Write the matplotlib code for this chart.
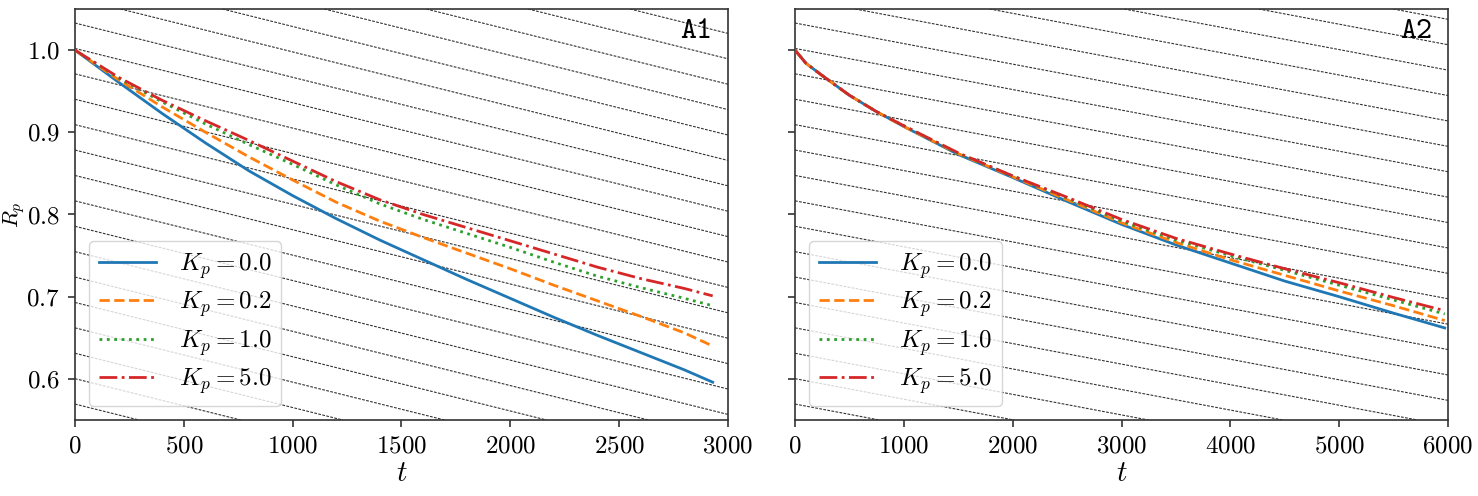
import numpy as np
import matplotlib
matplotlib.use("Agg")
import matplotlib.pyplot as plt

# data
t_a1 = [0, 200, 400, 600, 800, 1000, 1200, 1400, 1600, 1800, 2000, 2200, 2400, 2600, 2800, 2930]
a1_kp00 = [1.0, 0.961, 0.923, 0.887, 0.853, 0.823, 0.795, 0.769, 0.745, 0.721, 0.698, 0.675, 0.653, 0.632, 0.611, 0.596]
a1_kp02 = [1.0, 0.964, 0.931, 0.900, 0.870, 0.842, 0.815, 0.792, 0.772, 0.753, 0.734, 0.714, 0.695, 0.676, 0.656, 0.640]
a1_kp10 = [1.0, 0.966, 0.937, 0.910, 0.885, 0.861, 0.836, 0.813, 0.794, 0.777, 0.760, 0.742, 0.725, 0.711, 0.698, 0.689]
a1_kp50 = [1.0, 0.967, 0.939, 0.914, 0.890, 0.865, 0.840, 0.818, 0.800, 0.784, 0.768, 0.752, 0.736, 0.722, 0.710, 0.701]

t_a2 = [0, 100, 250, 500, 750, 1000, 1500, 2000, 2500, 3000, 3500, 4000, 4500, 5000, 5500, 5970]
a2_kp00 = [1.0, 0.984, 0.969, 0.945, 0.925, 0.907, 0.873, 0.845, 0.816, 0.788, 0.763, 0.741, 0.719, 0.700, 0.680, 0.662]
a2_kp02 = [1.0, 0.984, 0.969, 0.945, 0.925, 0.907, 0.874, 0.846, 0.818, 0.790, 0.766, 0.745, 0.726, 0.707, 0.689, 0.671]
a2_kp10 = [1.0, 0.984, 0.969, 0.945, 0.925, 0.908, 0.874, 0.847, 0.820, 0.792, 0.769, 0.750, 0.732, 0.714, 0.696, 0.679]
a2_kp50 = [1.0, 0.984, 0.969, 0.945, 0.925, 0.908, 0.875, 0.847, 0.821, 0.794, 0.771, 0.752, 0.734, 0.717, 0.699, 0.683]

kp_labels = [r"$K_p = 0.0$", r"$K_p = 0.2$", r"$K_p = 1.0$", r"$K_p = 5.0$"]
colors = ["#1f77b4", "#ff7f0e", "#2ca02c", "#d62728"]
styles = ["-", "--", ":", "-."]

plt.rcParams["font.family"] = "serif"
plt.rcParams["font.serif"] = ["cmr10"]
plt.rcParams["mathtext.fontset"] = "cm"
plt.rcParams["axes.formatter.use_mathtext"] = True

fig = plt.figure(figsize=(14.78, 4.96), dpi=100)
ax1 = fig.add_axes([0.0507, 0.1532, 0.4418, 0.8287])
ax2 = fig.add_axes([0.5379, 0.1532, 0.4418, 0.8287])

panels = [
    (ax1, t_a1, [a1_kp00, a1_kp02, a1_kp10, a1_kp50], 3000, 500, -6.6e-5, "A1"),
    (ax2, t_a2, [a2_kp00, a2_kp02, a2_kp10, a2_kp50], 6000, 1000, -2.5e-5, "A2"),
]

for ax, t, series, tmax, tstep, slope, tag in panels:
    # background guide lines
    for c in 1.002 + 0.0309 * np.arange(-18, 10):
        ax.axline((0, c), slope=slope, color="black", lw=0.8,
                  ls=(0, (2.5, 1.2)), alpha=0.8, zorder=1)
    for y, lab, col, ls in zip(series, kp_labels, colors, styles):
        ax.plot(t, y, color=col, ls=ls, lw=2.0, label=lab, zorder=3)
    ax.set_xlim(0, tmax)
    ax.set_ylim(0.55, 1.05)
    ax.set_xticks(np.arange(0, tmax + 1, tstep))
    ax.set_yticks([0.6, 0.7, 0.8, 0.9, 1.0])
    ax.tick_params(direction="out", length=5, width=1.2, labelsize=18, color="#333333", pad=6)
    for s in ax.spines.values():
        s.set_color("#333333")
        s.set_linewidth(1.2)
    ax.set_xlabel(r"$t$", fontsize=21, labelpad=2)
    ax.text(0.976, 0.944, tag, transform=ax.transAxes, ha="right", va="center",
            fontsize=22, family="cmtt10")
    leg = ax.legend(loc="lower left", fontsize=18, handlelength=2.3, handletextpad=0.9,
                    labelspacing=0.35, borderaxespad=0.55, fancybox=True, framealpha=0.8)
    leg.get_frame().set_edgecolor("#cccccc")

ax2.tick_params(labelleft=False)
ax1.set_ylabel(r"$R_p$", fontsize=16)
ax1.yaxis.set_label_coords(-0.074, 0.5)

fig.savefig("out.png", dpi=100)
